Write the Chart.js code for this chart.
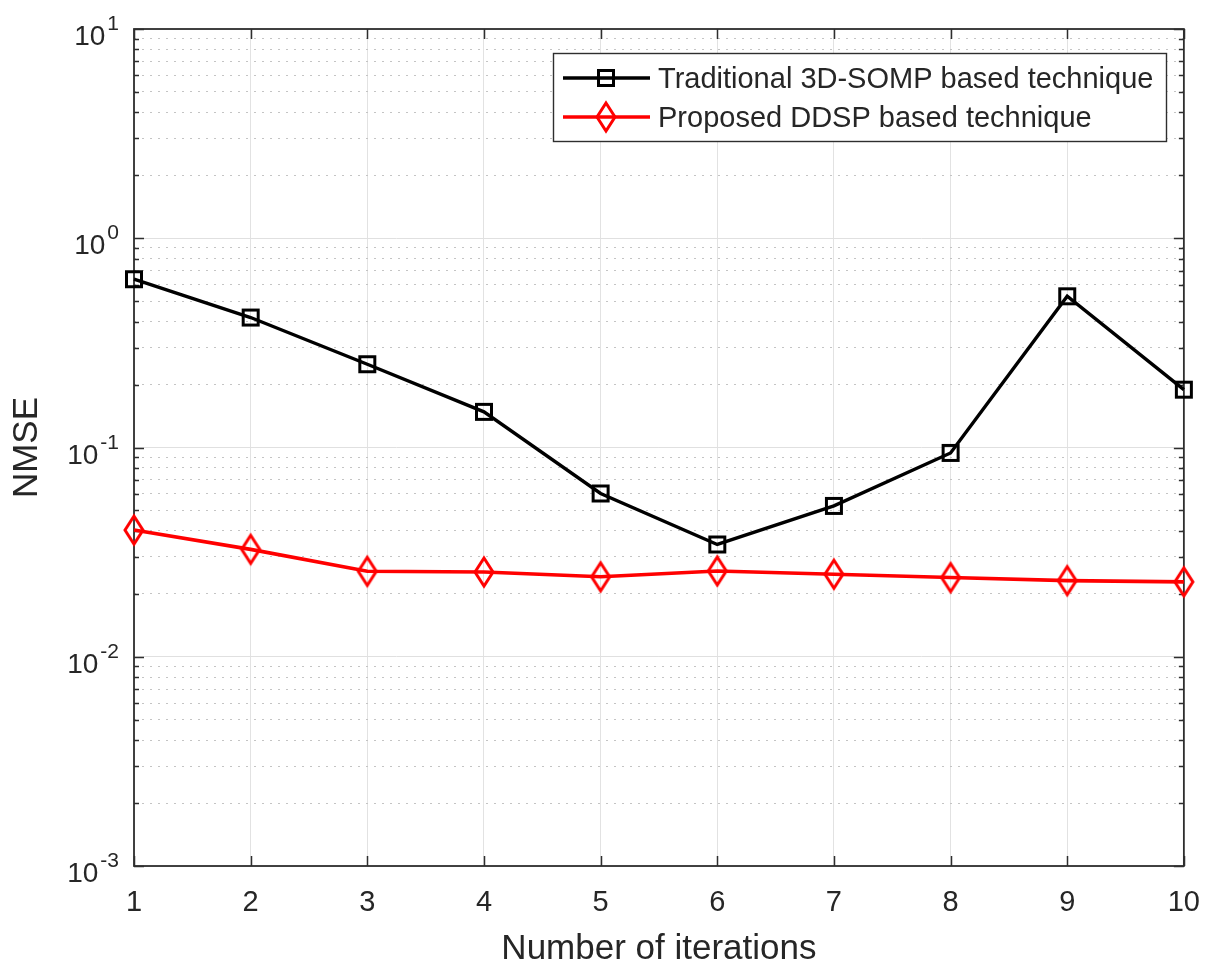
<!DOCTYPE html>
<html>
<head>
<meta charset="utf-8">
<script src="https://cdn.jsdelivr.net/npm/chart.js@4.4.1/dist/chart.umd.min.js"></script>
<style>
html,body{margin:0;padding:0;background:#ffffff;}
#wrap{width:1220px;height:964px;position:relative;}
</style>
</head>
<body>
<div id="wrap"><canvas id="c" width="1220" height="964"></canvas></div>
<script>
// ---- data ----
const iterations = [1, 2, 3, 4, 5, 6, 7, 8, 9, 10];
const sompNmse = [0.637, 0.418, 0.250, 0.148, 0.0603, 0.0344, 0.0526, 0.0942, 0.528, 0.189];
const ddspNmse = [0.0403, 0.0326, 0.0256, 0.0254, 0.0241, 0.0257, 0.0248, 0.0239, 0.0231, 0.0228];
const seriesNames = ['Traditional 3D-SOMP based technique', 'Proposed DDSP based technique'];
const xTickValues = [1, 2, 3, 4, 5, 6, 7, 8, 9, 10];
const yDecadeExponents = [-3, -2, -1, 0, 1];
const xTitle = 'Number of iterations';
const yTitle = 'NMSE';

// ---- styling ----
const FONT = "'Liberation Sans', Arial, Helvetica, sans-serif";
const TXT = '#262626';
const AXIS = '#2e2e2e';

function squareMarker(color) {
  const c = document.createElement('canvas');
  c.width = 22; c.height = 22;
  const g = c.getContext('2d');
  g.strokeStyle = color; g.lineWidth = 3; g.lineJoin = 'miter';
  g.strokeRect(3.5, 3.5, 15, 15);
  return c;
}
function diamondMarker(color) {
  const c = document.createElement('canvas');
  c.width = 28; c.height = 40;
  const g = c.getContext('2d');
  g.strokeStyle = color; g.lineWidth = 3; g.lineJoin = 'miter';
  g.beginPath();
  g.moveTo(14, 6); g.lineTo(23, 20); g.lineTo(14, 34); g.lineTo(5, 20); g.closePath();
  g.stroke();
  return c;
}
const sqBlack = squareMarker('#000000');
const dmRed = diamondMarker('#ff0000');
const seriesColors = ['#000000', '#ff0000'];
const seriesMarkers = [sqBlack, dmRed];

// all 1..9 x 10^k ticks for the log axis
function logTicks(minExp, maxExp) {
  const t = [];
  for (let e = minExp; e < maxExp; e++) {
    for (let m = 1; m <= 9; m++) t.push({ value: m * Math.pow(10, e), major: m === 1 });
  }
  t.push({ value: Math.pow(10, maxExp), major: true });
  return t;
}

const matlabPlugin = {
  id: 'matlabAxes',
  beforeDatasetsDraw(chart) {
    const { ctx, chartArea: a, scales } = chart;
    const xs = scales.x, ys = scales.y;
    ctx.save();
    ctx.strokeStyle = AXIS;
    ctx.lineWidth = 1.8;
    ctx.strokeRect(a.left, a.top, a.right - a.left, a.bottom - a.top);
    ctx.lineWidth = 1.5;
    ctx.beginPath();
    ys.ticks.forEach(t => {
      const y = Math.round(ys.getPixelForValue(t.value)) + 0.5;
      const len = t.major ? 10 : 5;
      ctx.moveTo(a.left, y); ctx.lineTo(a.left + len, y);
      ctx.moveTo(a.right, y); ctx.lineTo(a.right - len, y);
    });
    xs.ticks.forEach(t => {
      const x = Math.round(xs.getPixelForValue(t.value)) + 0.5;
      ctx.moveTo(x, a.bottom); ctx.lineTo(x, a.bottom - 10);
      ctx.moveTo(x, a.top); ctx.lineTo(x, a.top + 10);
    });
    ctx.stroke();
    ctx.restore();
  },
  afterDatasetsDraw(chart) {
    const { ctx, scales } = chart;
    const ys = scales.y;
    ctx.save();
    // y tick labels with superscript exponents
    ctx.fillStyle = TXT;
    const rightEdge = 119;
    yDecadeExponents.forEach(k => {
      const y = ys.getPixelForValue(Math.pow(10, k));
      const expStr = String(k);
      ctx.font = '21px ' + FONT;
      const ew = ctx.measureText(expStr).width;
      ctx.textAlign = 'left';
      ctx.textBaseline = 'alphabetic';
      ctx.fillText(expStr, rightEdge - ew, y + 1);
      ctx.font = '28px ' + FONT;
      ctx.textAlign = 'right';
      ctx.fillText('10', rightEdge - ew - 2, y + 16);
    });
    // legend
    const L = { left: 553, top: 53, right: 1167, bottom: 142 };
    ctx.fillStyle = '#ffffff';
    ctx.fillRect(L.left, L.top, L.right - L.left, L.bottom - L.top);
    ctx.strokeStyle = AXIS;
    ctx.lineWidth = 1.4;
    ctx.strokeRect(L.left + 0.5, L.top + 0.5, L.right - L.left - 1, L.bottom - L.top - 1);
    const rows = [78, 117];
    seriesNames.forEach((name, i) => {
      const cy = rows[i];
      ctx.strokeStyle = seriesColors[i];
      ctx.lineWidth = 3.4;
      ctx.beginPath();
      ctx.moveTo(563, cy); ctx.lineTo(650, cy);
      ctx.stroke();
      const m = seriesMarkers[i];
      ctx.drawImage(m, 606 - m.width / 2, cy - m.height / 2);
      ctx.fillStyle = TXT;
      ctx.font = '29px ' + FONT;
      ctx.textAlign = 'left';
      ctx.textBaseline = 'alphabetic';
      ctx.fillText(name, 658, cy + 10);
    });
    ctx.restore();
  }
};

const ctx = document.getElementById('c').getContext('2d');
new Chart(ctx, {
  type: 'line',
  data: {
    datasets: [
      {
        label: seriesNames[0],
        data: iterations.map((x, i) => ({ x: x, y: sompNmse[i] })),
        borderColor: seriesColors[0],
        borderWidth: 3.4,
        pointStyle: sqBlack,
        pointRadius: 10,
        pointBackgroundColor: 'rgba(0,0,0,0)',
        pointBorderColor: seriesColors[0],
        tension: 0,
        clip: false
      },
      {
        label: seriesNames[1],
        data: iterations.map((x, i) => ({ x: x, y: ddspNmse[i] })),
        borderColor: seriesColors[1],
        borderWidth: 3.6,
        pointStyle: dmRed,
        pointRadius: 10,
        pointBackgroundColor: 'rgba(0,0,0,0)',
        pointBorderColor: seriesColors[1],
        tension: 0,
        clip: false
      }
    ]
  },
  options: {
    responsive: false,
    animation: false,
    events: [],
    devicePixelRatio: 1,
    layout: { padding: { top: 29, right: 28, left: 0, bottom: 0 } },
    plugins: { legend: { display: false }, tooltip: { enabled: false } },
    scales: {
      x: {
        type: 'linear',
        min: 1,
        max: 10,
        afterBuildTicks(scale) { scale.ticks = xTickValues.map(v => ({ value: v })); },
        afterFit(scale) { scale.height = 98; },
        ticks: {
          autoSkip: false,
          padding: 20,
          color: TXT,
          font: { family: FONT, size: 29 },
          callback: v => String(v)
        },
        grid: { color: '#e2e2e2', lineWidth: 1, drawTicks: false },
        border: { display: false },
        title: {
          display: true,
          text: xTitle,
          color: TXT,
          font: { family: FONT, size: 35, lineHeight: 0.8 },
          padding: { top: 0, bottom: 1 }
        }
      },
      y: {
        type: 'logarithmic',
        min: 1e-3,
        max: 10,
        afterBuildTicks(scale) { scale.ticks = logTicks(-3, 1); },
        afterFit(scale) { scale.width = 134; },
        ticks: {
          autoSkip: false,
          color: TXT,
          font: { family: FONT, size: 28 },
          callback: () => ''
        },
        grid: {
          drawTicks: false,
          lineWidth: 1,
          color: c => (c.tick && c.tick.major) ? '#e0e0e0' : '#c4c4c4'
        },
        border: {
          display: false,
          dash: c => (c.tick && !c.tick.major) ? [2, 6] : []
        },
        title: {
          display: true,
          text: yTitle,
          color: TXT,
          font: { family: FONT, size: 35, lineHeight: 1 },
          padding: { top: 10, bottom: 0 }
        }
      }
    }
  },
  plugins: [matlabPlugin]
});
</script>
</body>
</html>
